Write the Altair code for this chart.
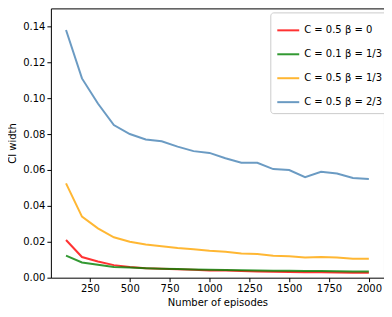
import altair as alt
import pandas as pd

episodes = [100, 200, 300, 400, 500, 600, 700, 800, 900, 1000,
            1100, 1200, 1300, 1400, 1500, 1600, 1700, 1800, 1900, 2000]

labels = ["C = 0.5  β = 0", "C = 0.1  β = 1/3", "C = 0.5  β = 1/3", "C = 0.5  β = 2/3"]
colors = ["#ff0000", "#008000", "#ffa500", "#4682b4"]

red = [0.021, 0.0115, 0.009, 0.007, 0.006, 0.0053, 0.005, 0.0047, 0.0044, 0.0040,
       0.0040, 0.0037, 0.0035, 0.0033, 0.0032, 0.0030, 0.0030, 0.0029, 0.0028, 0.0027]
green = [0.0123, 0.0085, 0.0072, 0.0060, 0.0057, 0.0053, 0.0050, 0.0048, 0.0046, 0.0044,
         0.0043, 0.0041, 0.0040, 0.0039, 0.0038, 0.0037, 0.0037, 0.0036, 0.0035, 0.0035]
orange = [0.0525, 0.034, 0.0275, 0.0225, 0.020, 0.0185, 0.0175, 0.0165, 0.0158, 0.0150,
          0.0145, 0.0135, 0.0132, 0.0122, 0.0120, 0.0112, 0.0115, 0.0112, 0.0105, 0.0105]
blue = [0.138, 0.111, 0.097, 0.085, 0.080, 0.077, 0.076, 0.073, 0.0705, 0.0695,
        0.0665, 0.064, 0.064, 0.0605, 0.060, 0.056, 0.059, 0.058, 0.0555, 0.055]

series = [red, green, orange, blue]
rows = []
for lab, vals in zip(labels, series):
    for e, v in zip(episodes, vals):
        rows.append({"episodes": e, "ci": v, "series": lab})
df = pd.DataFrame(rows)

font = "DejaVu Sans"

chart = alt.Chart(df).mark_line(strokeWidth=2, opacity=0.8).encode(
    x=alt.X("episodes:Q",
            scale=alt.Scale(domain=[5, 2095], nice=False, zero=False),
            axis=alt.Axis(title="Number of episodes", values=[250, 500, 750, 1000, 1250, 1500, 1750, 2000],
                          format="d",
                          grid=False, tickSize=4, tickColor="black", domain=False,
                          labelColor="black", titleColor="black", labelFontSize=10, titleFontSize=10,
                          titleFontWeight="normal", labelFont=font, titleFont=font, titlePadding=4)),
    y=alt.Y("ci:Q",
            scale=alt.Scale(domain=[0, 0.15], nice=False),
            axis=alt.Axis(title="CI width", values=[0, 0.02, 0.04, 0.06, 0.08, 0.10, 0.12, 0.14],
                          format=".2f", grid=False, tickSize=4, tickColor="black", domain=False,
                          labelColor="black", titleColor="black", labelFontSize=10, titleFontSize=10,
                          titleFontWeight="normal", labelFont=font, titleFont=font, titlePadding=5)),
    color=alt.Color("series:N",
                    scale=alt.Scale(domain=labels, range=colors),
                    sort=labels,
                    legend=alt.Legend(title=None, orient="none", legendX=220, legendY=4,
                                      symbolType="stroke", symbolSize=484, symbolStrokeWidth=2,
                                      symbolOpacity=0.8,
                                      labelFont=font, labelFontSize=10, labelColor="black",
                                      rowPadding=7, padding=6, strokeColor="#cccccc",
                                      cornerRadius=3, fillColor="white")),
).properties(
    width=334, height=270,
    autosize=alt.AutoSizeParams(type="none"),
    padding={"left": 43, "top": 0, "right": 0, "bottom": 31},
).configure_view(stroke="black", strokeWidth=1)

chart.save("out.html", embed_options={"renderer": "svg", "actions": False})
